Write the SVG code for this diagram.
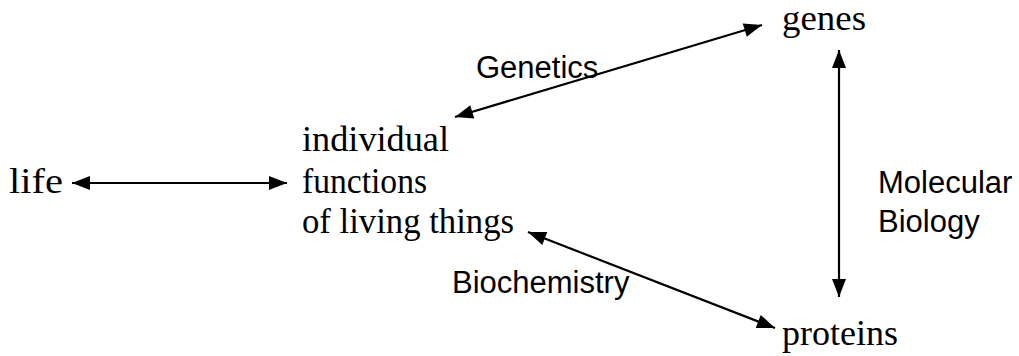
<svg xmlns="http://www.w3.org/2000/svg" width="1019" height="356" viewBox="0 0 1019 356">
<style>
.node{font-family:"Liberation Serif","Times New Roman",serif;font-size:35px;fill:#000}
.lbl{font-family:"Liberation Sans",Arial,sans-serif;font-size:31px;fill:#000}
.conn line{stroke:#000;stroke-width:2.2;marker-start:url(#ah);marker-end:url(#ah)}
</style>
<defs>
<marker id="ah" markerUnits="userSpaceOnUse" markerWidth="19" markerHeight="15" refX="18" refY="7" orient="auto-start-reverse" overflow="visible">
<path d="M0,0 L18,7 L0,14 z" fill="#000"/>
</marker>
</defs>
<rect width="1019" height="356" fill="#fff"/>
<g id="connectors" class="conn">
<line x1="72" y1="183" x2="287" y2="183"/>
<line x1="455" y1="117" x2="762" y2="25"/>
<line x1="839" y1="50" x2="839" y2="297"/>
<line x1="528" y1="232" x2="775" y2="328"/>
</g>
<g id="life"><text class="node" x="9" y="193" textLength="54" lengthAdjust="spacingAndGlyphs">life</text></g>
<g id="functions">
<text class="node" x="302" y="151" textLength="147" lengthAdjust="spacingAndGlyphs">individual</text>
<text class="node" x="302" y="193" textLength="125" lengthAdjust="spacingAndGlyphs">functions</text>
<text class="node" x="302" y="233" textLength="212" lengthAdjust="spacingAndGlyphs">of living things</text>
</g>
<g id="genes"><text class="node" x="782" y="30" textLength="84" lengthAdjust="spacingAndGlyphs">genes</text></g>
<g id="proteins"><text class="node" x="782" y="345" textLength="116" lengthAdjust="spacingAndGlyphs">proteins</text></g>
<g id="labels">
<text class="lbl" x="476" y="78">Genetics</text>
<text class="lbl" x="878" y="193">Molecular</text>
<text class="lbl" x="878" y="232">Biology</text>
<text class="lbl" x="452" y="293">Biochemistry</text>
</g>
</svg>
